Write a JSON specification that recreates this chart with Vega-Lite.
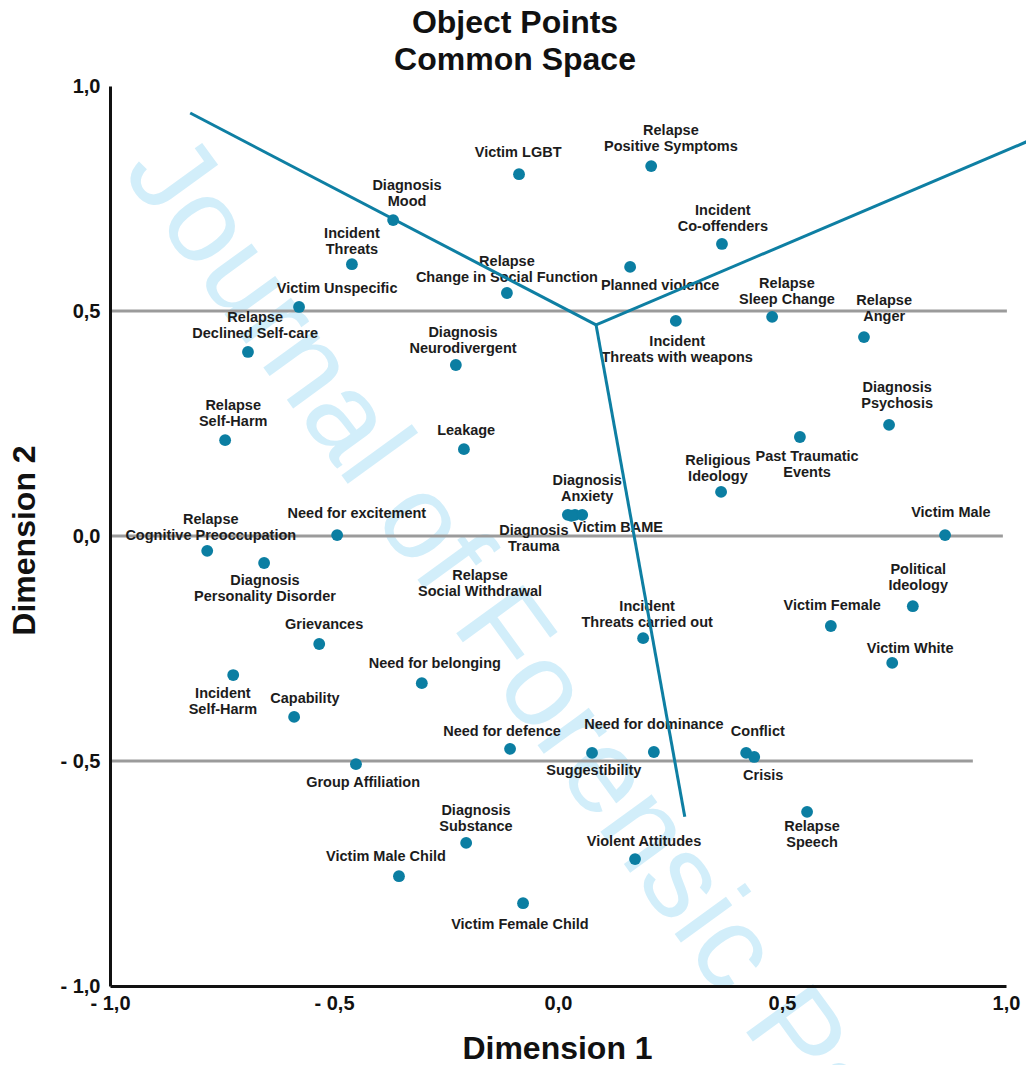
{
  "$schema": "https://vega.github.io/schema/vega-lite/v6.json",
  "autosize": {"type": "none"},
  "width": 896,
  "height": 900,
  "padding": {"left": 110, "top": 86, "right": 20, "bottom": 79},
  "background": "white",
  "title": {"text": ["Object Points", "Common Space"], "font": "Liberation Sans", "fontSize": 32, "fontWeight": "bold", "color": "#111111", "anchor": "middle", "dx": -43, "lineHeight": 37, "offset": -1},
  "config": {"view": {"stroke": null}, "font": "Liberation Sans"},
  "datasets": {
    "points": [
      {"name": "Diagnosis Mood", "label": "Diagnosis\nMood", "x": -0.368, "y": 0.702, "lx": -0.337, "ly": 0.778},
      {"name": "Victim LGBT", "label": "Victim LGBT", "x": -0.087, "y": 0.804, "lx": -0.089, "ly": 0.851},
      {"name": "Relapse Positive Symptoms", "label": "Relapse\nPositive Symptoms", "x": 0.208, "y": 0.822, "lx": 0.252, "ly": 0.900},
      {"name": "Incident Co-offenders", "label": "Incident\nCo-offenders", "x": 0.366, "y": 0.649, "lx": 0.368, "ly": 0.722},
      {"name": "Incident Threats", "label": "Incident\nThreats", "x": -0.460, "y": 0.604, "lx": -0.460, "ly": 0.671},
      {"name": "Relapse Change in Social Function", "label": "Relapse\nChange in Social Function", "x": -0.114, "y": 0.540, "lx": -0.114, "ly": 0.609},
      {"name": "Planned violence", "label": "Planned violence", "x": 0.161, "y": 0.598, "lx": 0.228, "ly": 0.556},
      {"name": "Victim Unspecific", "label": "Victim Unspecific", "x": -0.578, "y": 0.509, "lx": -0.493, "ly": 0.549},
      {"name": "Relapse Sleep Change", "label": "Relapse\nSleep Change", "x": 0.478, "y": 0.487, "lx": 0.511, "ly": 0.560},
      {"name": "Relapse Anger", "label": "Relapse\nAnger", "x": 0.683, "y": 0.442, "lx": 0.728, "ly": 0.522},
      {"name": "Relapse Declined Self-care", "label": "Relapse\nDeclined Self-care", "x": -0.692, "y": 0.409, "lx": -0.676, "ly": 0.485},
      {"name": "Diagnosis Neurodivergent", "label": "Diagnosis\nNeurodivergent", "x": -0.228, "y": 0.380, "lx": -0.212, "ly": 0.451},
      {"name": "Incident Threats with weapons", "label": "Incident\nThreats with weapons", "x": 0.263, "y": 0.478, "lx": 0.266, "ly": 0.431},
      {"name": "Diagnosis Psychosis", "label": "Diagnosis\nPsychosis", "x": 0.739, "y": 0.247, "lx": 0.757, "ly": 0.329},
      {"name": "Relapse Self-Harm", "label": "Relapse\nSelf-Harm", "x": -0.743, "y": 0.213, "lx": -0.725, "ly": 0.289},
      {"name": "Leakage", "label": "Leakage", "x": -0.210, "y": 0.193, "lx": -0.205, "ly": 0.233},
      {"name": "Past Traumatic Events", "label": "Past Traumatic\nEvents", "x": 0.540, "y": 0.220, "lx": 0.556, "ly": 0.176},
      {"name": "Religious Ideology", "label": "Religious\nIdeology", "x": 0.364, "y": 0.098, "lx": 0.357, "ly": 0.167},
      {"name": "Diagnosis Anxiety", "label": "Diagnosis\nAnxiety", "x": 0.038, "y": 0.047, "lx": 0.065, "ly": 0.122},
      {"name": "Victim BAME", "label": "Victim BAME", "x": 0.054, "y": 0.047, "lx": 0.134, "ly": 0.018},
      {"name": "Diagnosis Trauma", "label": "Diagnosis\nTrauma", "x": 0.022, "y": 0.047, "lx": -0.054, "ly": 0.011},
      {"name": "Relapse Social Withdrawal", "label": "Relapse\nSocial Withdrawal", "x": 0.030, "y": 0.045, "lx": -0.174, "ly": -0.089},
      {"name": "Need for excitement", "label": "Need for excitement", "x": -0.493, "y": 0.002, "lx": -0.449, "ly": 0.049},
      {"name": "Victim Male", "label": "Victim Male", "x": 0.864, "y": 0.002, "lx": 0.877, "ly": 0.051},
      {"name": "Relapse Cognitive Preoccupation", "label": "Relapse\nCognitive Preoccupation", "x": -0.783, "y": -0.033, "lx": -0.775, "ly": 0.036},
      {"name": "Diagnosis Personality Disorder", "label": "Diagnosis\nPersonality Disorder", "x": -0.656, "y": -0.060, "lx": -0.654, "ly": -0.100},
      {"name": "Political Ideology", "label": "Political\nIdeology", "x": 0.792, "y": -0.156, "lx": 0.804, "ly": -0.075},
      {"name": "Victim Female", "label": "Victim Female", "x": 0.609, "y": -0.200, "lx": 0.612, "ly": -0.156},
      {"name": "Incident Threats carried out", "label": "Incident\nThreats carried out", "x": 0.190, "y": -0.227, "lx": 0.199, "ly": -0.158},
      {"name": "Grievances", "label": "Grievances", "x": -0.533, "y": -0.240, "lx": -0.522, "ly": -0.198},
      {"name": "Victim White", "label": "Victim White", "x": 0.746, "y": -0.282, "lx": 0.786, "ly": -0.251},
      {"name": "Need for belonging", "label": "Need for belonging", "x": -0.304, "y": -0.327, "lx": -0.275, "ly": -0.284},
      {"name": "Incident Self-Harm", "label": "Incident\nSelf-Harm", "x": -0.725, "y": -0.309, "lx": -0.748, "ly": -0.351},
      {"name": "Capability", "label": "Capability", "x": -0.589, "y": -0.402, "lx": -0.565, "ly": -0.362},
      {"name": "Need for defence", "label": "Need for defence", "x": -0.107, "y": -0.473, "lx": -0.125, "ly": -0.436},
      {"name": "Need for dominance", "label": "Need for dominance", "x": 0.214, "y": -0.480, "lx": 0.214, "ly": -0.420},
      {"name": "Conflict", "label": "Conflict", "x": 0.420, "y": -0.482, "lx": 0.446, "ly": -0.436},
      {"name": "Group Affiliation", "label": "Group Affiliation", "x": -0.451, "y": -0.507, "lx": -0.435, "ly": -0.549},
      {"name": "Suggestibility", "label": "Suggestibility", "x": 0.076, "y": -0.482, "lx": 0.080, "ly": -0.522},
      {"name": "Crisis", "label": "Crisis", "x": 0.438, "y": -0.491, "lx": 0.458, "ly": -0.533},
      {"name": "Relapse Speech", "label": "Relapse\nSpeech", "x": 0.556, "y": -0.613, "lx": 0.567, "ly": -0.647},
      {"name": "Diagnosis Substance", "label": "Diagnosis\nSubstance", "x": -0.205, "y": -0.682, "lx": -0.183, "ly": -0.611},
      {"name": "Violent Attitudes", "label": "Violent Attitudes", "x": 0.172, "y": -0.718, "lx": 0.192, "ly": -0.680},
      {"name": "Victim Male Child", "label": "Victim Male Child", "x": -0.355, "y": -0.756, "lx": -0.384, "ly": -0.713},
      {"name": "Victim Female Child", "label": "Victim Female Child", "x": -0.078, "y": -0.816, "lx": -0.085, "ly": -0.864}
    ],
    "partition": [
      {"seg": "upper left", "ord": 0, "px": -0.821, "py": 0.940},
      {"seg": "upper left", "ord": 1, "px": 0.085, "py": 0.469},
      {"seg": "upper right", "ord": 0, "px": 0.085, "py": 0.469},
      {"seg": "upper right", "ord": 1, "px": 1.1, "py": 0.899},
      {"seg": "lower", "ord": 0, "px": 0.085, "py": 0.469},
      {"seg": "lower", "ord": 1, "px": 0.283, "py": -0.624}
    ],
    "grid": [
      {"gy": 0.5, "gx1": -1, "gx2": 1.002},
      {"gy": 0, "gx1": -1, "gx2": 0.993},
      {"gy": -0.5, "gx1": -1, "gx2": 0.926}
    ],
    "watermark": [
      {"wtext": "Journal of Forensic Psychiatry & Psychology"}
    ]
  },
  "layer": [
    {
      "data": {"name": "watermark"},
      "mark": {"type": "text", "angle": 54, "align": "left", "baseline": "alphabetic", "fontSize": 120, "font": "Liberation Sans", "color": "#d2eefa"},
      "encoding": {
        "x": {"datum": -0.975, "type": "quantitative", "scale": {"domain": [-1, 1], "nice": false, "zero": false}},
        "y": {"datum": 0.809, "type": "quantitative", "scale": {"domain": [-1, 1], "nice": false, "zero": false}},
        "text": {"field": "wtext"}
      }
    },
    {
      "data": {"name": "grid"},
      "mark": {"type": "rule", "color": "#9b9b9b", "strokeWidth": 3},
      "encoding": {
        "x": {"field": "gx1", "type": "quantitative", "scale": {"domain": [-1, 1], "nice": false, "zero": false}},
        "x2": {"field": "gx2"},
        "y": {"field": "gy", "type": "quantitative", "scale": {"domain": [-1, 1], "nice": false, "zero": false}}
      }
    },
    {
      "data": {"name": "points"},
      "mark": {"type": "text", "font": "Liberation Sans", "fontSize": 14.5, "fontWeight": "bold", "color": "#1c1c1c", "align": "center", "baseline": "middle", "lineBreak": "\n", "lineHeight": 16},
      "encoding": {
        "x": {"field": "lx", "type": "quantitative", "scale": {"domain": [-1, 1], "nice": false, "zero": false}},
        "y": {"field": "ly", "type": "quantitative", "scale": {"domain": [-1, 1], "nice": false, "zero": false}},
        "text": {"field": "label"}
      }
    },
    {
      "data": {"name": "partition"},
      "mark": {"type": "line", "color": "#0e7fa3", "strokeWidth": 3},
      "encoding": {
        "x": {"field": "px", "type": "quantitative", "scale": {"domain": [-1, 1], "nice": false, "zero": false}},
        "y": {"field": "py", "type": "quantitative", "scale": {"domain": [-1, 1], "nice": false, "zero": false}},
        "detail": {"field": "seg"},
        "order": {"field": "ord"}
      }
    },
    {
      "data": {"name": "points"},
      "mark": {"type": "circle", "size": 140, "color": "#0b7ea2", "opacity": 1},
      "encoding": {
        "x": {"field": "x", "type": "quantitative", "scale": {"domain": [-1, 1], "nice": false, "zero": false},
          "axis": {"title": "Dimension 1", "zindex": 1, "values": [-1, -0.5, 0, 0.5, 1], "grid": false, "ticks": false, "domainColor": "#111111", "domainWidth": 3, "labelFont": "Liberation Sans", "labelFontSize": 20, "labelFontWeight": "bold", "labelColor": "#111111", "labelPadding": 7, "labelFlush": false, "labelOverlap": false, "labelExpr": "datum.value < 0 ? '- ' + replace(format(-datum.value, '.1f'), '.', ',') : replace(format(datum.value, '.1f'), '.', ',')", "titleFont": "Liberation Sans", "titleFontSize": 32, "titleFontWeight": "bold", "titleColor": "#111111", "titleBaseline": "alphabetic", "titleY": 72, "titleX": 447}},
        "y": {"field": "y", "type": "quantitative", "scale": {"domain": [-1, 1], "nice": false, "zero": false},
          "axis": {"title": "Dimension 2", "zindex": 1, "values": [-1, -0.5, 0, 0.5, 1], "grid": false, "ticks": false, "domainColor": "#111111", "domainWidth": 3, "labelFont": "Liberation Sans", "labelFontSize": 20, "labelFontWeight": "bold", "labelColor": "#111111", "labelPadding": 10, "labelFlush": false, "labelOverlap": false, "labelExpr": "datum.value < 0 ? '- ' + replace(format(-datum.value, '.1f'), '.', ',') : replace(format(datum.value, '.1f'), '.', ',')", "titleFont": "Liberation Sans", "titleFontSize": 32, "titleFontWeight": "bold", "titleColor": "#111111", "titleAngle": 270, "titleBaseline": "alphabetic", "titleAlign": "center", "titleX": -76, "titleY": 454}},
        "tooltip": {"field": "name"}
      }
    }
  ]
}
